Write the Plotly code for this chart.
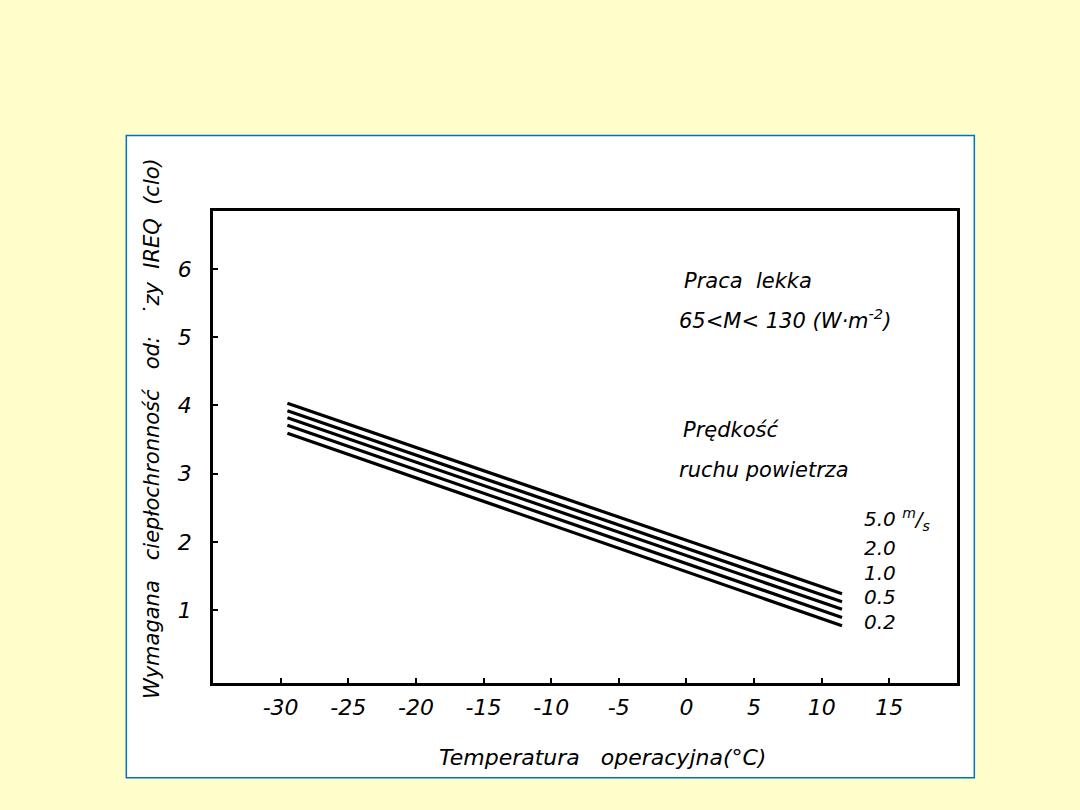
import plotly.graph_objects as go

# temperatura operacyjna (oC) - poczatek i koniec linii
temp = [-29.5, 11.5]

# predkosc ruchu powietrza (m/s) i odczytane IREQ (clo)
predkosci = ['5.0', '2.0', '1.0', '0.5', '0.2']
ireq_start = [4.03, 3.92, 3.82, 3.71, 3.59]
ireq_koniec = [1.24, 1.12, 1.01, 0.89, 0.77]

# etykiety predkosci po prawej stronie
etykieta_y = [2.32, 1.91, 1.54, 1.19, 0.82]

x_ticks = [-30, -25, -20, -15, -10, -5, 0, 5, 10, 15]
y_ticks = [1, 2, 3, 4, 5, 6]

czcionka = dict(family='DejaVu Sans', color='black', style='italic')

fig = go.Figure()

for i, v in enumerate(predkosci):
    fig.add_trace(go.Scatter(x=temp,
                             y=[ireq_start[i], ireq_koniec[i]],
                             mode='lines',
                             name=v + ' m/s',
                             line=dict(color='black', width=3.2),
                             showlegend=False,
                             ))

# etykiety linii
for i, v in enumerate(predkosci):
    tekst = v
    if i == 0:
        tekst = v + ' <sup>m</sup>/<sub>s</sub>'
    fig.add_annotation(x=13.0, y=etykieta_y[i], text=tekst,
                       xanchor='left', yanchor='middle', showarrow=False,
                       font=dict(czcionka, size=20))

opisy = [
    ('Praca  lekka', -0.3, 5.82),
    ('65&lt;M&lt; 130 (W·m<sup>-2</sup>)', -0.7, 5.27),
    ('Prędkość', -0.4, 3.64),
    ('ruchu powietrza', -0.7, 3.05),
]
for t, x, y in opisy:
    fig.add_annotation(x=x, y=y, text=t, xanchor='left', yanchor='middle',
                       showarrow=False, font=dict(czcionka, size=21))

# tytuly osi
fig.add_annotation(x=0.523, y=-0.157, xref='paper', yref='paper',
                   text='Temperatura   operacyjna(°C)', showarrow=False,
                   xanchor='center', yanchor='middle',
                   font=dict(czcionka, size=22))
fig.add_annotation(x=-0.082, y=0.54, xref='paper', yref='paper',
                   text='Wymagana   ciepłochronność   od:   ˙zy  IREQ  (clo)',
                   textangle=-90, showarrow=False,
                   xanchor='center', yanchor='middle',
                   font=dict(czcionka, size=21))

# biala ramka z niebieska krawedzia
fig.add_shape(type='rect', xref='paper', yref='paper',
              x0=-0.1165, x1=1.0233, y0=-0.201, y1=1.160,
              line=dict(color='#0070C0', width=1.5),
              fillcolor='white', layer='below')

fig.update_layout(
    width=1080, height=810,
    paper_bgcolor='#FFFFCC',
    plot_bgcolor='white',
    margin=dict(l=213, r=123, t=211, b=127),
    font=dict(czcionka, size=20),
    xaxis=dict(range=[-35, 20], tickvals=x_ticks,
               ticktext=[str(v) for v in x_ticks],
               showgrid=False, zeroline=False,
               showline=True, mirror=True, linecolor='black', linewidth=2.5,
               ticks='inside', ticklen=5, tickwidth=2, tickcolor='black',
               ticklabelstandoff=3,
               tickfont=dict(czcionka, size=22)),
    yaxis=dict(range=[-0.07, 6.85], tickvals=y_ticks,
               showgrid=False, zeroline=False,
               showline=True, mirror=True, linecolor='black', linewidth=2.5,
               ticks='inside', ticklen=5, tickwidth=2, tickcolor='black',
               ticklabelstandoff=14,
               tickfont=dict(czcionka, size=22)),
)

fig.write_html("out.html", config={'displayModeBar': False},
               post_script="document.body.style.margin='0';")
